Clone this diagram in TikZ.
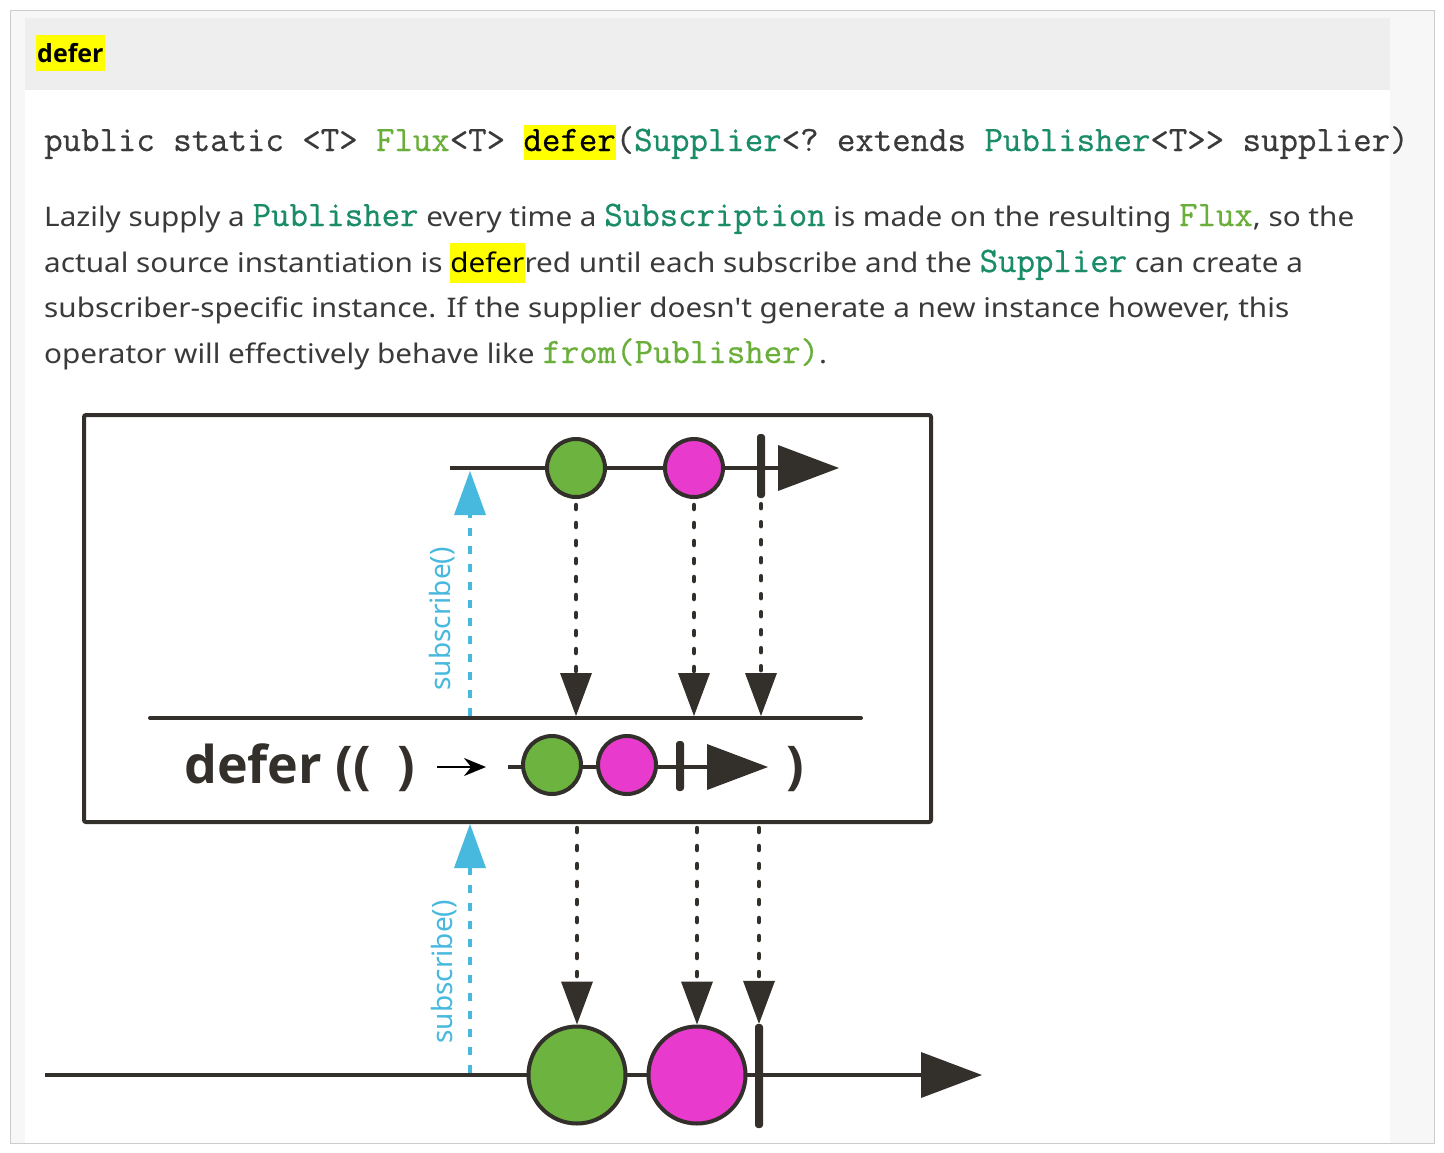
\documentclass[tikz,border=0pt]{standalone}
\usepackage{fontspec}
\setmainfont{Noto Sans}
\setmonofont[FakeBold=0.6]{Latin Modern Mono}
\newfontfamily\bodyfont[FakeStretch=1.1]{Noto Sans}
\newfontfamily\labelfont{Open Sans}
\usetikzlibrary{arrows.meta,positioning,calc}
\definecolor{RxInk}{HTML}{33302B}
\definecolor{RxGreen}{HTML}{6DB33F}
\definecolor{RxPink}{HTML}{E83BCD}
\definecolor{RxBlue}{HTML}{47B8DE}
\definecolor{CodeTeal}{HTML}{1A8C68}
\definecolor{CodeLime}{HTML}{6AAF3A}
\definecolor{BodyInk}{HTML}{3A3A3A}
\definecolor{HeadGray}{HTML}{EEEEEE}
\definecolor{PageGray}{HTML}{F7F7F7}
\definecolor{Mark}{HTML}{FFFF00}
\newcommand\codeT[1]{{\ttfamily\fontsize{35.8}{35.8}\selectfont\color{CodeTeal}#1}}
\newcommand\codeL[1]{{\ttfamily\fontsize{35.8}{35.8}\selectfont\color{CodeLime}#1}}
\newcommand\hilite[3]{{\setlength{\fboxsep}{0pt}\colorbox{Mark}{\rule[-#2]{0pt}{#3}\textcolor{black}{#1}}}}

\begin{document}
\begin{tikzpicture}[x=1pt,y=-1pt,
  tl/.style={draw=RxInk,line width=4pt},
  marble/.style={circle,draw=RxInk,line width=4pt,inner sep=0pt,minimum size=58pt},
  bigmarble/.style={marble,minimum size=97pt},
  endbar/.style={rectangle,fill=RxInk,inner sep=0pt,minimum width=8pt,rounded corners=3pt},
  flow/.style={-{Triangle[length=61pt,width=46pt,line width=0pt]}},
  emit/.style={RxInk,line width=4.5pt,line cap=round,dash pattern=on 4pt off 14pt,
    -{Triangle[length=43pt,width=32pt,line width=0pt]}},
  subarrow/.style={RxBlue,line width=4pt,dash pattern=on 8pt off 10pt,
    -{Triangle[length=44pt,width=32pt,line width=0pt]}},
  sublabel/.style={RxBlue,font=\fontsize{28}{28}\selectfont,rotate=90,inner sep=0pt},
  bodyline/.style={anchor=base west,inner sep=0pt,text=BodyInk,
    font=\bodyfont\fontsize{27}{27}\selectfont},
  optext/.style={anchor=base west,inner sep=0pt,text=RxInk,
    font=\labelfont\fontsize{52}{52}\selectfont\bfseries}]
% page and panels
\fill[white] (0,0) rectangle (1444,1152);
\fill[PageGray] (10,10) rectangle (1434,1143);
\draw[black!20,line width=1pt] (10,10) rectangle (1434,1143);
\fill[white] (25,18) rectangle (1390,1143);
\fill[HeadGray] (25,18) rectangle (1390,90);
\node[anchor=base west,inner sep=0pt,font=\labelfont\fontsize{25}{25}\selectfont\bfseries] (hdr) at (36,62)
  {\hilite{\kern1pt defer\kern1pt}{9pt}{36pt}};
% signature
\node[anchor=base west,inner sep=0pt,text=BodyInk,font=\ttfamily\fontsize{35.8}{35.8}\selectfont] (sig) at (44,151)
  {public static <T> \textcolor{CodeLime}{Flux}<T> \hilite{defer}{9pt}{35pt}(\textcolor{CodeTeal}{Supplier}<? extends \textcolor{CodeTeal}{Publisher}<T>> supplier)};
% description
\node[bodyline] (l1) at (44,226) {Lazily supply a \codeT{Publisher} every time a \codeT{Subscription} is made on the resulting \codeL{Flux}, so the};
\node[bodyline] (l2) at (44,272) {actual source instantiation is \hilite{defer}{11pt}{40pt}red until each subscribe and the \codeT{Supplier} can create a};
\node[bodyline] (l3) at (44,317) {subscriber-specific instance. If the supplier doesn't generate a new instance however, this};
\node[bodyline] (l4) at (44,363) {operator will effectively behave like \codeL{from(Publisher)}.};
% operator box
\node[draw=RxInk,line width=4pt,rounded corners=2pt,inner sep=0pt,
  minimum width=847pt,minimum height=407pt] (opbox) at (507.5,618.5) {};
% source timeline
\coordinate (topL) at (450,468);
\coordinate (topR) at (839,468);
\draw[tl,flow] (topL) -- (topR);
\node[marble,fill=RxGreen] (tg) at (576,468) {};
\node[marble,fill=RxPink] (tp) at (694,468) {};
\node[endbar,minimum height=64pt] (tc) at (761,466) {};
% operator line
\coordinate (midL) at (150,718);
\coordinate (midR) at (861,718);
\draw[tl,line cap=round] (midL) -- (midR);
\foreach \src in {tg,tp,tc}
  \draw[emit] ([yshift=-6pt]\src.south) -- ([yshift=2pt]\src.south |- midL);
\coordinate (subA) at (470,716);
\coordinate (subB) at (470,471);
\draw[subarrow] (subA) -- (subB);
\node[sublabel] (s1) at (442,619) {subscribe()};
% operator label
\node[optext] (optxt) at (184,783) {defer ((\,\,\,)};
\coordinate (lamA) at (437,767);
\coordinate (lamB) at (486,767);
\draw[line width=2pt,-{Stealth[length=22pt,width=18pt]}] (lamA) -- (lamB);
\coordinate (mL) at (508,767);
\coordinate (mR) at (768,767);
\draw[tl,flow] (mL) -- (mR);
\node[marble,fill=RxGreen] (mg) at (552,765) {};
\node[marble,fill=RxPink] (mp) at (627,765) {};
\node[endbar,minimum height=50pt] (mc) at (680,766) {};
\node[optext] (opclose) at (786,783) {)};
% result timeline
\coordinate (botL) at (45,1075);
\coordinate (botR) at (982,1075);
\draw[tl,flow] (botL) -- (botR);
\node[bigmarble,fill=RxGreen] (bg) at (577,1075) {};
\node[bigmarble,fill=RxPink] (bp) at (697,1075) {};
\node[endbar,minimum height=104pt] (bc) at (759,1076) {};
\foreach \dst in {bg,bp,bc}
  \draw[emit] ($(opbox.south -| \dst.north)+(0,4)$) -- (\dst.north);
\coordinate (subC) at (470,1073);
\coordinate (subD) at (470,824);
\draw[subarrow] (subC) -- (subD);
\node[sublabel] (s2) at (444,972) {subscribe()};
\end{tikzpicture}
\end{document}
